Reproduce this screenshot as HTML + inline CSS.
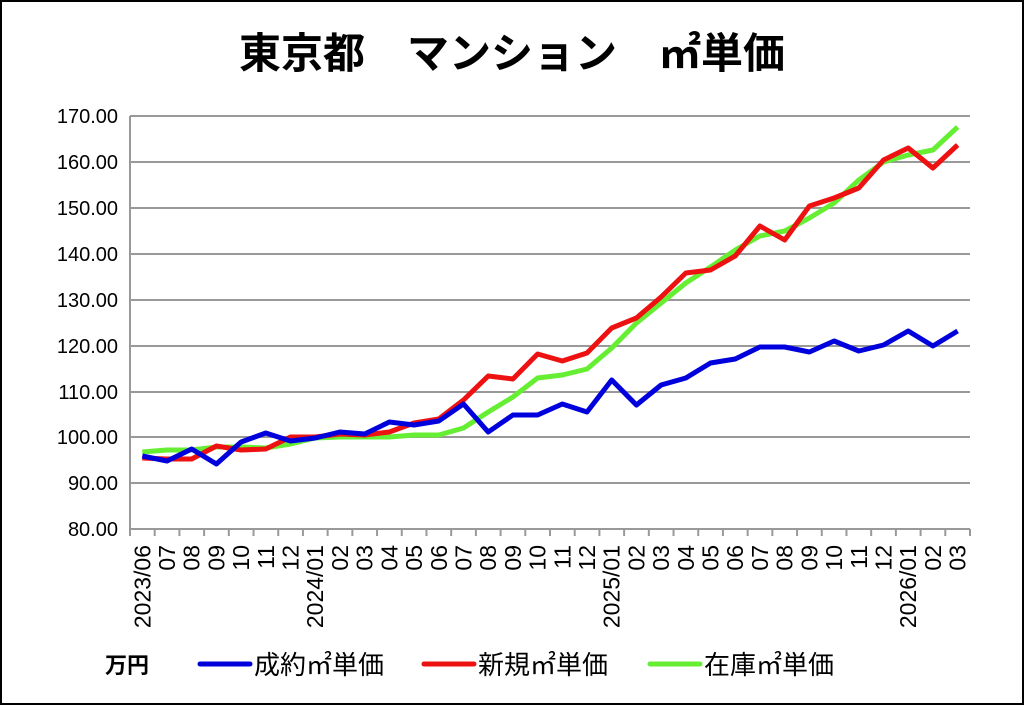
<!DOCTYPE html>
<html><head><meta charset="utf-8"><style>
html,body{margin:0;padding:0;background:#fff;}
svg{display:block;}
text{font-family:"Liberation Sans","Noto Sans CJK JP",sans-serif;}
</style></head><body>
<svg width="1024" height="705" viewBox="0 0 1024 705" xmlns="http://www.w3.org/2000/svg">
<rect x="1" y="1" width="1022" height="703" fill="#fff" stroke="#000" stroke-width="2"/>
<text x="512" y="68" text-anchor="middle" font-size="42" font-weight="bold" font-family="'Noto Sans CJK JP',sans-serif">東京都　マンション　㎡単価</text>
<g stroke="#999" stroke-width="2">
<line x1="130" x2="970" y1="116" y2="116"/><line x1="130" x2="970" y1="162" y2="162"/>
<line x1="130" x2="970" y1="208" y2="208"/><line x1="130" x2="970" y1="254" y2="254"/>
<line x1="130" x2="970" y1="300" y2="300"/><line x1="130" x2="970" y1="346" y2="346"/>
<line x1="130" x2="970" y1="392" y2="392"/><line x1="130" x2="970" y1="437" y2="437"/>
<line x1="130" x2="970" y1="483" y2="483"/><line x1="130" x2="970" y1="529" y2="529"/>
<line x1="130" x2="130" y1="116" y2="529"/>
</g>
<g font-size="20" text-anchor="end" fill="#000">
<text x="118" y="123">170.00</text><text x="118" y="169">160.00</text><text x="118" y="215">150.00</text>
<text x="118" y="261">140.00</text><text x="118" y="307">130.00</text><text x="118" y="353">120.00</text>
<text x="118" y="399">110.00</text><text x="118" y="444">100.00</text><text x="118" y="490">90.00</text>
<text x="118" y="536">80.00</text>
</g>
<g id="ticks" stroke="#999" stroke-width="2"></g>
<g id="labels" font-size="23"></g>
<polyline id="g" fill="none" stroke="#66ee33" stroke-width="5" stroke-linejoin="round"/>
<polyline id="r" fill="none" stroke="#ee1111" stroke-width="5" stroke-linejoin="round"/>
<polyline id="b" fill="none" stroke="#0000dd" stroke-width="5" stroke-linejoin="round"/>
<text x="105" y="673" font-size="22" font-weight="bold" font-family="'Noto Sans CJK JP',sans-serif">万円</text>
<line x1="200" x2="250" y1="664" y2="664" stroke="#0000dd" stroke-width="5" stroke-linecap="round"/>
<text x="254" y="674" font-size="26" font-family="'Noto Sans CJK JP',sans-serif">成約㎡単価</text>
<line x1="424" x2="474" y1="664" y2="664" stroke="#ee1111" stroke-width="5" stroke-linecap="round"/>
<text x="478" y="674" font-size="26" font-family="'Noto Sans CJK JP',sans-serif">新規㎡単価</text>
<line x1="650" x2="700" y1="664" y2="664" stroke="#66ee33" stroke-width="5" stroke-linecap="round"/>
<text x="704" y="674" font-size="26" font-family="'Noto Sans CJK JP',sans-serif">在庫㎡単価</text>
</svg>
<script>
var B=[456,461,449,464,442,433,441,438,432,434,422,425,421,404,432,415,415,404,412,380,405,385,378,363,359,347,347,352,341,351,345,331,346,331];
var R=[458,459,459,446,450,449,437,437,434,435,432,423,419,400,376,379,354,361,353,328,318,297,273,270,256,226,240,206,198,188,160,148,168,145];
var G=[452,450,450,447,447,448,444,438,437,437,437,435,435,428,412,397,378,375,369,348,323,303,283,267,250,236,231,218,203,180,162,155,150,127];
var L=["2023/06","07","08","09","10","11","12","2024/01","02","03","04","05","06","07","08","09","10","11","12","2025/01","02","03","04","05","06","07","08","09","10","11","12","2026/01","02","03"];
var sp=840/34;function px(i){return (142.3+i*sp).toFixed(1);}
function pts(a){return a.map(function(v,i){return px(i)+","+v;}).join(" ");}
document.getElementById("b").setAttribute("points",pts(B));
document.getElementById("r").setAttribute("points",pts(R));
document.getElementById("g").setAttribute("points",pts(G));
var ns="http://www.w3.org/2000/svg",t=document.getElementById("ticks"),lb=document.getElementById("labels");
for(var i=0;i<=34;i++){var l=document.createElementNS(ns,"line");var x=130+i*sp;l.setAttribute("x1",x);l.setAttribute("x2",x);l.setAttribute("y1",529);l.setAttribute("y2",536);t.appendChild(l);}
for(var i=0;i<34;i++){var e=document.createElementNS(ns,"text");var x=+px(i)+8;e.setAttribute("transform","translate("+x+",545) rotate(-90)");e.setAttribute("text-anchor","end");e.textContent=L[i];lb.appendChild(e);}
</script>
</body></html>
